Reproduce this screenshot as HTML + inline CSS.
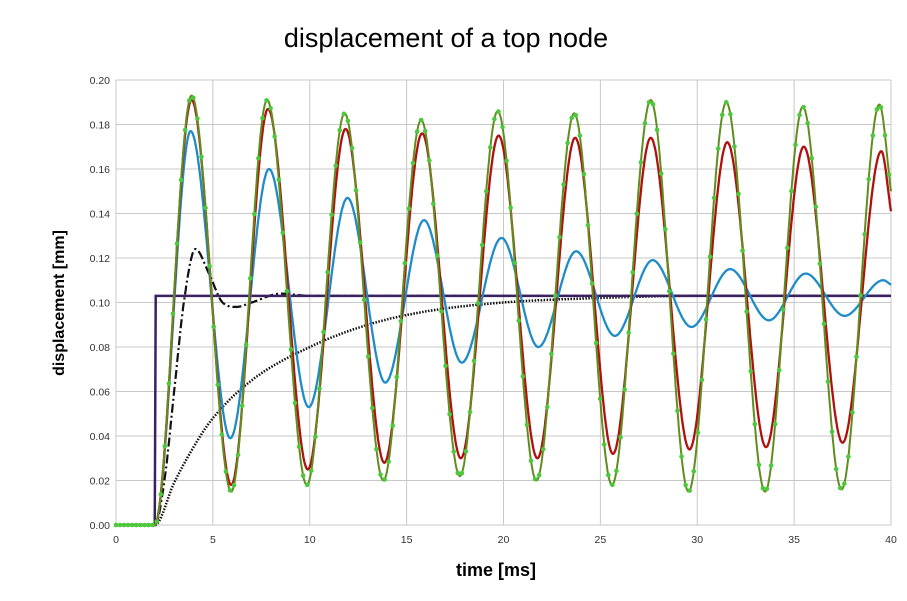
<!DOCTYPE html>
<html><head><meta charset="utf-8"><style>
body{margin:0;background:#fff;font-family:"Liberation Sans",sans-serif}
</style></head><body>
<svg id="chart" width="907" height="596" xmlns="http://www.w3.org/2000/svg" font-family="Liberation Sans, sans-serif">
<rect width="907" height="596" fill="#fff"/>
<text x="446" y="47" text-anchor="middle" font-size="27" fill="#000">displacement of a top node</text>
<text transform="translate(64,303) rotate(-90)" text-anchor="middle" font-size="16" font-weight="bold">displacement [mm]</text>
<text x="496" y="576" text-anchor="middle" font-size="18" font-weight="bold">time [ms]</text>
<g id="grid"></g><g id="ticks"></g><g id="series"></g>
</svg>
<script>
const xTicks=[0,5,10,15,20,25,30,35,40];
const yTicks=[0,0.02,0.04,0.06,0.08,0.1,0.12,0.14,0.16,0.18,0.2];
const yTickLabels=["0.00","0.02","0.04","0.06","0.08","0.10","0.12","0.14","0.16","0.18","0.20"];
const greenT=[0,2,3.9,5.95,7.8,9.85,11.8,13.8,15.75,17.75,19.7,21.7,23.65,25.6,27.6,29.55,31.5,33.5,35.45,37.45,39.4,40];
const greenV=[0,0,0.193,0.015,0.191,0.018,0.185,0.020,0.182,0.022,0.186,0.020,0.185,0.018,0.191,0.015,0.190,0.015,0.188,0.016,0.189,0.150];
const redT=[0,2,3.9,5.95,7.85,9.9,11.85,13.85,15.8,17.8,19.75,21.75,23.7,25.65,27.6,29.6,31.55,33.55,35.5,37.5,39.5,40];
const redV=[0,0,0.191,0.018,0.187,0.025,0.178,0.028,0.176,0.030,0.175,0.030,0.174,0.032,0.174,0.034,0.172,0.035,0.170,0.037,0.168,0.141];
const blueT=[0,2,3.85,5.9,7.9,9.95,11.95,13.9,15.9,17.85,19.9,21.8,23.75,25.75,27.7,29.7,31.7,33.7,35.6,37.6,39.6,40];
const blueV=[0,0,0.177,0.039,0.160,0.053,0.147,0.064,0.137,0.073,0.129,0.080,0.123,0.085,0.119,0.089,0.115,0.092,0.113,0.094,0.110,0.108];
const dashT=[0,2,2.5,3,3.5,4.1,4.8,5.5,6.2,7,8.5,10,40];
const dashV=[0,0,0.02,0.06,0.1,0.124,0.113,0.1,0.098,0.1,0.104,0.103,0.103];
const dotT=[0,2,3,4,5,7,10,13,16,20,25,30,40];
const dotV=[0,0,0.019,0.035,0.048,0.065,0.08,0.09,0.096,0.1,0.102,0.103,0.103];
const stepT=[0,2,2.05,40];
const stepV=[0,0,0.103,0.103];

const X0=116,X1=891,Y0=525,Y1=80;
const sx=t=>X0+(t-0)/(40-0)*(X1-X0);
const sy=v=>Y0-(v-0)/(0.2-0)*(Y0-Y1);
const NS="http://www.w3.org/2000/svg";
function mk(tag,parent,attrs){const e=document.createElementNS(NS,tag);for(const k in attrs)e.setAttribute(k,attrs[k]);parent.appendChild(e);return e;}
const grid=document.getElementById('grid'),ticks=document.getElementById('ticks'),ser=document.getElementById('series');
yTicks.forEach((v,i)=>{
 const l=mk('line',grid,{x1:X0,x2:X1,y1:sy(v),y2:sy(v),stroke:'#c8c8c8','stroke-width':1});
 
 
 const t=mk('text',ticks,{x:X0-6,y:sy(v)+4,'text-anchor':'end','font-size':10.5,fill:'#333'});
 t.textContent=yTickLabels[i];
 
 
});
xTicks.forEach(v=>{
 const l=mk('line',grid,{x1:sx(v),x2:sx(v),y1:Y1,y2:Y0,stroke:'#c8c8c8','stroke-width':1});
 
 
 const t=mk('text',ticks,{x:sx(v),y:Y0+18,'text-anchor':'middle','font-size':10.5,fill:'#333'});
 t.textContent=v;
 
 
});
function mono(T,V){
 const n=T.length,d=[],m=new Array(n).fill(0);
 for(let i=0;i<n-1;i++)d.push((V[i+1]-V[i])/(T[i+1]-T[i]));
 m[0]=d[0];m[n-1]=d[n-2];
 for(let i=1;i<n-1;i++){m[i]=(d[i-1]*d[i]<=0)?0:(d[i-1]+d[i])/2;}
 for(let i=0;i<n-1;i++){if(d[i]===0){m[i]=0;m[i+1]=0;continue;}const a=m[i]/d[i],b=m[i+1]/d[i],s=a*a+b*b;if(s>9){const k=3/Math.sqrt(s);m[i]=k*a*d[i];m[i+1]=k*b*d[i];}}
 return t=>{let i=0;while(i<n-2&&t>T[i+1])i++;const h=T[i+1]-T[i],u=(t-T[i])/h;const h00=2*u*u*u-3*u*u+1,h10=u*u*u-2*u*u+u,h01=-2*u*u*u+3*u*u,h11=u*u*u-u*u;return h00*V[i]+h10*h*m[i]+h01*V[i+1]+h11*h*m[i+1];};
}
function curve(T,V,attrs,name){
 const f=mono(T,V);let d='';
 for(let t=0;t<=40.0001;t+=0.02){d+=(d?'L':'M')+sx(t).toFixed(1)+','+sy(f(t)).toFixed(1);}
 const p=mk('path',ser,Object.assign({d,fill:'none'},attrs));
 
 
 return f;
}
curve(dotT,dotV,{stroke:'#111','stroke-width':2.5,'stroke-dasharray':'1.5,1.5'},'series-dotted');
curve(dashT,dashV,{stroke:'#111','stroke-width':2.2,'stroke-dasharray':'9,3,2,3'},'series-dash-dot');
let sd='';stepT.forEach((t,i)=>{sd+=(i?'L':'M')+sx(t)+','+sy(stepV[i]);});
const sp=mk('path',ser,{d:sd,fill:'none',stroke:'#3b2160','stroke-width':2.5});


curve(blueT,blueV,{stroke:'#1f8cc8','stroke-width':2.3},'series-blue');
curve(redT,redV,{stroke:'#b01010','stroke-width':2.3},'series-red');
const gf=curve(greenT,greenV,{stroke:'#5e8e1e','stroke-width':2},'series-green');
for(let t=0;t<=40.0001;t+=0.21){
 const c=mk('circle',ser,{cx:sx(t),cy:sy(gf(t)),r:2.3,fill:'#4cc83a'});
 
 
}
</script>
</body></html>
